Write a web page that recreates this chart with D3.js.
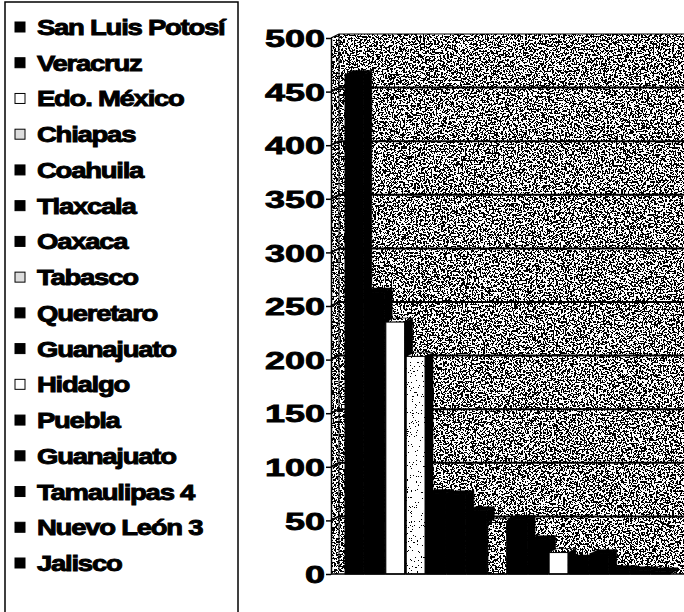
<!DOCTYPE html>
<html>
<head>
<meta charset="utf-8">
<script src="https://cdn.jsdelivr.net/npm/d3@7"></script>
<style>
  html, body { margin: 0; padding: 0; background: #fff; overflow: hidden; }
  svg { display: block; }
  text { font-family: Arial, "Liberation Sans", sans-serif; font-weight: bold; fill: #000; }
</style>
</head>
<body>
<svg id="chart" width="684" height="612"></svg>
<script>
// ---- data ----
const categories = ["San Luis Potosí", "Veracruz", "Edo. México", "Chiapas", "Coahuila", "Tlaxcala",
  "Oaxaca", "Tabasco", "Queretaro", "Guanajuato", "Hidalgo", "Puebla", "Guanajuato",
  "Tamaulipas 4", "Nuevo León 3", "Jalisco"];
const values = [466, 263, 235, 203, 75, 74, 59, 48, 51, 32, 20, 14, 19, 4, 3, 2];
const yTicks = [0, 50, 100, 150, 200, 250, 300, 350, 400, 450, 500];
// fill kind per series (style)
const fillKinds = ["black", "black", "white", "light", "black", "black", "black", "medium",
  "black", "black", "white", "black", "black", "black", "black", "black"];

const svg = d3.select("#chart");
const defs = svg.append("defs");

function noiseFilter(id, threshold, freq, seed, oct) {
  // discrete table: values below threshold -> black, above -> white
  const n = 100, k = Math.round(threshold * n);
  const table = d3.range(n).map(j => (j < k ? 0 : 1)).join(" ");
  const f = defs.append("filter").attr("id", id)
    .attr("x", "-5%").attr("y", "-5%").attr("width", "110%").attr("height", "110%")
    .attr("color-interpolation-filters", "sRGB");
  f.append("feTurbulence").attr("type", "fractalNoise").attr("baseFrequency", freq)
    .attr("numOctaves", oct).attr("seed", seed).attr("result", "n");
  f.append("feColorMatrix").attr("in", "n").attr("type", "matrix")
    .attr("values", "1 0 0 0 0  1 0 0 0 0  1 0 0 0 0  0 0 0 0 1").attr("result", "g");
  const ct = f.append("feComponentTransfer").attr("in", "g").attr("result", "b");
  ["feFuncR", "feFuncG", "feFuncB"].forEach(fn =>
    ct.append(fn).attr("type", "discrete").attr("tableValues", table));
  f.append("feComposite").attr("in", "b").attr("in2", "SourceGraphic").attr("operator", "in");
}
noiseFilter("wallNoise", 0.49, 0.55, 5, 4);
noiseFilter("lightDots", 0.30, 0.8, 11, 3);

// speckle pattern tile (large tile so the noise behaves like the wall)
const pat = defs.append("pattern").attr("id", "speckle").attr("patternUnits", "userSpaceOnUse")
  .attr("width", 120).attr("height", 120);
pat.append("rect").attr("width", 120).attr("height", 120).attr("fill", "#fff")
  .attr("filter", "url(#wallNoise)");

// ---- geometry ----
const y = d3.scaleLinear().domain([0, 500]).range([574, 38]);
const x = d3.scaleBand().domain(d3.range(categories.length)).range([345, 670]).paddingInner(0.08);
const dx = 8, dy = 4;
const axisX = 331, plotRight = 700;

const plot = svg.append("g");

// back wall
plot.append("rect").attr("x", axisX + dx).attr("y", y(500) - dy)
  .attr("width", plotRight - axisX - dx).attr("height", y(0) - y(500))
  .attr("fill", "#fff").attr("filter", "url(#wallNoise)");
// left wall
plot.append("path")
  .attr("d", `M${axisX},${y(0)} L${axisX},${y(500)} L${axisX + dx},${y(500) - dy} L${axisX + dx},${y(0) - dy} Z`)
  .attr("fill", "#fff").attr("filter", "url(#wallNoise)");
// floor
plot.append("path")
  .attr("d", `M${axisX},${y(0)} L${axisX + dx},${y(0) - dy} L${plotRight},${y(0) - dy} L${plotRight},${y(0)} Z`)
  .attr("fill", "#fff").attr("filter", "url(#wallNoise)");

// wall outlines
plot.append("path")
  .attr("d", `M${axisX},${y(500)} L${axisX + dx},${y(500) - dy} L${plotRight},${y(500) - dy}`)
  .attr("fill", "none").attr("stroke", "#000").attr("stroke-width", 1.2);
plot.append("line").attr("x1", axisX + dx).attr("x2", axisX + dx)
  .attr("y1", y(500) - dy).attr("y2", y(0) - dy).attr("stroke", "#000").attr("stroke-width", 1);

// gridlines
const grid = plot.append("g");
yTicks.filter(v => v > 0 && v < 500).forEach(v => {
  grid.append("path")
    .attr("d", `M${axisX},${y(v)} L${axisX + dx},${y(v) - dy} L${plotRight},${y(v) - dy}`)
    .attr("fill", "none").attr("stroke", "#000").attr("stroke-width", 2);
});

// bars (painter's order left to right)
const bars = plot.append("g");
categories.forEach((c, i) => {
  const x0 = x(i), w = x.bandwidth(), yt = y(values[i]), yb = y(0);
  const kind = fillKinds[i];
  const g = bars.append("g");
  // side face
  g.append("path")
    .attr("d", `M${x0 + w},${yb} L${x0 + w},${yt} L${x0 + w + dx},${yt - dy} L${x0 + w + dx},${yb - dy} Z`)
    .attr("fill", "#000").attr("stroke", "#000").attr("stroke-width", 0.6);
  // top face
  const top = g.append("path")
    .attr("d", `M${x0},${yt} L${x0 + dx},${yt - dy} L${x0 + w + dx},${yt - dy} L${x0 + w},${yt} Z`)
    .attr("stroke", "#000").attr("stroke-width", 0.6);
  if (kind === "black") top.attr("fill", "#000");
  else top.attr("fill", "url(#speckle)");
  // front face
  const front = g.append("rect").attr("x", x0).attr("y", yt).attr("width", w).attr("height", yb - yt);
  if (kind === "black") front.attr("fill", "#000");
  else if (kind === "white") front.attr("fill", "#fff");
  else if (kind === "light") front.attr("fill", "#fff").attr("filter", "url(#lightDots)");
  else front.attr("fill", "url(#speckle)");
  g.append("rect").attr("x", x0).attr("y", yt).attr("width", w).attr("height", yb - yt)
    .attr("fill", "none").attr("stroke", "#000").attr("stroke-width", 1);
});

// floor front edge
plot.append("line").attr("x1", axisX).attr("x2", plotRight).attr("y1", y(0)).attr("y2", y(0))
  .attr("stroke", "#000").attr("stroke-width", 1.5);

// y axis
const axisG = svg.append("g").attr("transform", `translate(${axisX},0)`)
  .call(d3.axisLeft(y).tickValues(yTicks).tickSize(5).tickSizeOuter(0));
axisG.select(".domain").attr("stroke", "#000").attr("stroke-width", 1.5);
axisG.selectAll(".tick line").attr("stroke", "#000").attr("stroke-width", 1.5);
axisG.selectAll(".tick text")
  .attr("x", -4).attr("dy", "0.36em")
  .attr("transform", "scale(1.5,1)")
  .style("font-size", "24px")
  .style("font-family", "Arial, 'Liberation Sans', sans-serif")
  .style("font-weight", "bold")
  .attr("stroke", "#000").attr("stroke-width", 0.8)
  .attr("fill", "#000");

// legend
const legend = svg.append("g");
legend.append("rect").attr("x", 5).attr("y", 2).attr("width", 233).attr("height", 700)
  .attr("fill", "#fff").attr("stroke", "#000").attr("stroke-width", 1.5);
const ly = d3.scalePoint().domain(d3.range(categories.length)).range([27, 563]);
categories.forEach((c, i) => {
  const cy = ly(i);
  const kind = fillKinds[i];
  const m = legend.append("rect").attr("x", 15).attr("y", cy - 5).attr("width", 10).attr("height", 10)
    .attr("stroke", "#000").attr("stroke-width", 1);
  if (kind === "black") m.attr("fill", "#000");
  else if (kind === "white") m.attr("fill", "#fff");
  else m.attr("fill", "#ddd");
  legend.append("text")
    .attr("transform", `translate(37,${cy + 8}) scale(1.25,1)`)
    .style("font-size", "22px")
    .attr("stroke", "#000").attr("stroke-width", 0.9)
    .attr("letter-spacing", "-1px")
    .text(c);
});
</script>
</body>
</html>
